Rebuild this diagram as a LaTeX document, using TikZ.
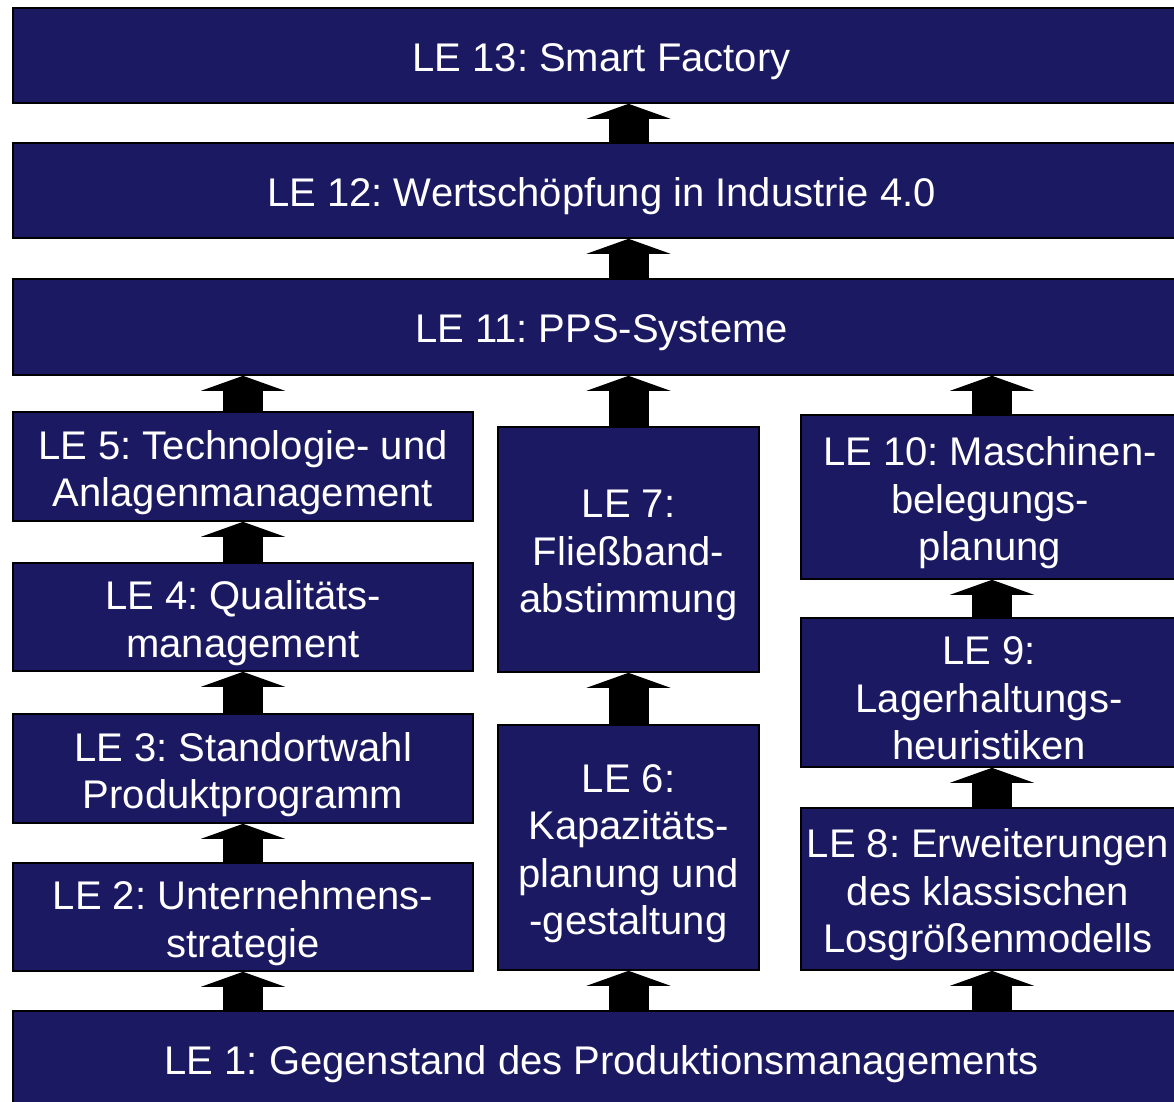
\documentclass[tikz,border=0pt]{standalone}
\usepackage{fontspec}
\setmainfont{Liberation Sans}
\frenchspacing
\usetikzlibrary{arrows.meta}
\definecolor{lenavy}{RGB}{27,25,98}
\begin{document}
\begin{tikzpicture}[x=1pt,y=-1pt,
  lebox/.style={draw=black, line width=1.6pt, fill=lenavy, inner sep=0pt},
  letext/.style={text=white, align=center, inner sep=0pt, yshift=-6pt,
    font=\fontsize{40}{47.5}\selectfont},
  lift/.style={line width=40pt, -{Triangle[length=15pt, width=84pt, line width=0pt]}}]
\useasboundingbox (0,0) rectangle (1174,1101);
\clip (0,0) rectangle (1174,1101);
% top row
\node [lebox, minimum width=1177, minimum height=95, label={[letext]center:{LE 13: Smart Factory}}] (l13) at (601.5,55.5) {};
\node [lebox, minimum width=1177, minimum height=95, label={[letext]center:{LE 12: Wertschöpfung in Industrie 4.0}}] (l12) at (601.5,190.5) {};
\node [lebox, minimum width=1177, minimum height=96, label={[letext]center:{LE 11: PPS-Systeme}}] (l11) at (601.5,327) {};
% left column
\node [lebox, minimum width=460, minimum height=109, label={[letext]center:{LE 5: Technologie- und\\Anlagenmanagement}}] (l5) at (243,466.5) {};
\node [lebox, minimum width=460, minimum height=108, label={[letext]center:{LE 4: Qualitäts-\\management}}] (l4) at (243,617) {};
\node [lebox, minimum width=460, minimum height=109, label={[letext]center:{LE 3: Standortwahl\\Produktprogramm}}] (l3) at (243,768.5) {};
\node [lebox, minimum width=460, minimum height=108, label={[letext]center:{LE 2: Unternehmens-\\strategie}}] (l2) at (243,917) {};
% middle column
\node [lebox, minimum width=261, minimum height=245, label={[letext]center:{LE 7:\\Fließband-\\abstimmung}}] (l7) at (628.5,549.5) {};
\node [lebox, minimum width=261, minimum height=245, label={[letext]center:{LE 6:\\Kapazitäts-\\planung und\\-gestaltung}}] (l6) at (628.5,847.5) {};
% right column
\node [lebox, minimum width=382, minimum height=164, label={[letext, xshift=-2pt]center:{LE 10: Maschinen-\\belegungs-\\planung}}] (l10) at (992,497) {};
\node [lebox, minimum width=382, minimum height=149, label={[letext, xshift=-3pt]center:{LE 9:\\Lagerhaltungs-\\heuristiken}}] (l9) at (992,692.5) {};
\node [lebox, minimum width=382, minimum height=162, label={[letext, xshift=-4pt]center:{LE 8: Erweiterungen\\des klassischen\\Losgrößenmodells}}] (l8) at (992,889) {};
% bottom row
\node [lebox, minimum width=1177, minimum height=95, label={[letext]center:{LE 1: Gegenstand des Produktionsmanagements}}] (l1) at (601.5,1058.5) {};
% arrows
\draw [lift] (l7 |- l12.north) -- (l7 |- l13.south);
\draw [lift] (l7 |- l11.north) -- (l7 |- l12.south);
\draw [lift] (l5.north) -- (l5 |- l11.south);
\draw [lift] (l7.north) -- (l7 |- l11.south);
\draw [lift] (l10.north) -- (l10 |- l11.south);
\draw [lift] (l4.north) -- (l5.south);
\draw [lift] (l3.north) -- (l4.south);
\draw [lift] (l2.north) -- (l3.south);
\draw [lift] (l2 |- l1.north) -- (l2.south);
\draw [lift] (l6.north) -- (l7.south);
\draw [lift] (l6 |- l1.north) -- (l6.south);
\draw [lift] (l9.north) -- (l10.south);
\draw [lift] (l8.north) -- (l9.south);
\draw [lift] (l8 |- l1.north) -- (l8.south);
\end{tikzpicture}
\end{document}
